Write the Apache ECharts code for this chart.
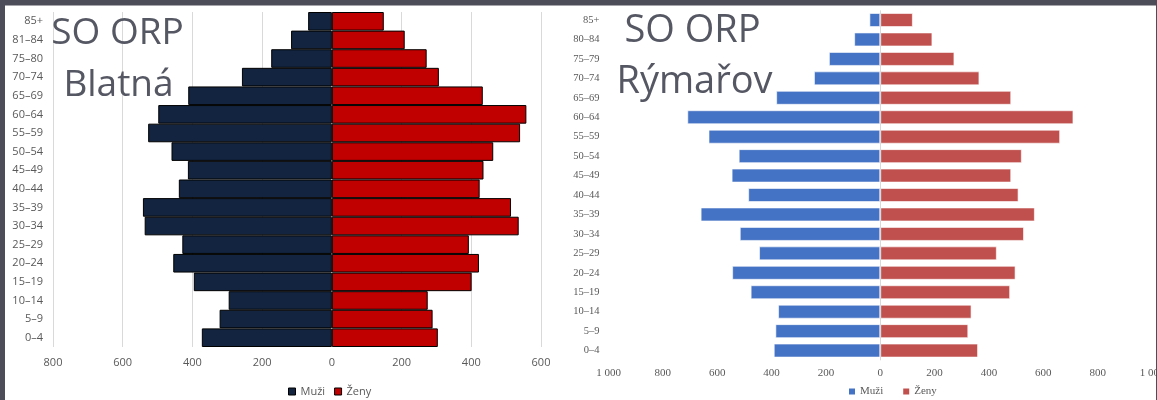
<!DOCTYPE html>
<html>
<head>
<meta charset="utf-8">
<script src="https://cdn.jsdelivr.net/npm/echarts@6/dist/echarts.min.js"></script>
<style>
html,body{margin:0;padding:0;background:#fff;}
#chart{width:1157px;height:400px;}
</style>
</head>
<body>
<div id="chart"></div>
<script>
// ---- data ----
const categoriesBlatna = ['85+','81–84','75–80','70–74','65–69','60–64','55–59','50–54','45–49','40–44','35–39','30–34','25–29','20–24','15–19','10–14','5–9','0–4'];
const muziBlatna = [68,117,174,258,412,498,527,460,413,439,542,537,429,455,396,296,322,373];
const zenyBlatna = [149,209,272,307,433,558,540,463,435,424,514,536,393,422,401,275,289,304];

const categoriesRymarov = ['85+','80–84','75–79','70–74','65–69','60–64','55–59','50–54','45–49','40–44','35–39','30–34','25–29','20–24','15–19','10–14','5–9','0–4'];
const muziRymarov = [40,96,189,244,383,710,632,521,547,486,661,517,446,545,477,376,386,392];
const zenyRymarov = [120,192,273,365,482,711,662,521,482,509,569,529,429,498,478,336,324,360];

const legendNames = ['Muži','Ženy'];
const titleBlatna = ['SO ORP','Blatná'];
const titleRymarov = ['SO ORP','Rýmařov'];

// ---- chart ----
const sans = 'Open Sans';
const serif = 'Liberation Serif';
const grey = '#595959';
const frame = '#4c4d59';
const titleColor = '#555763';

function fmtSpace(v){
  return String(Math.abs(v)).replace(/\B(?=(\d{3})+(?!\d))/g, ' ');
}

const chart = echarts.init(document.getElementById('chart'), null, {renderer:'canvas'});

const option = {
  backgroundColor: '#ffffff',
  animation: false,
  grid: [
    {left: 53, top: 12, width: 488, height: 335, containLabel: false, outerBoundsMode: 'none'},
    {left: 608.5, top: 10.3, width: 543.5, height: 350, containLabel: false, outerBoundsMode: 'none'}
  ],
  xAxis: [
    {
      type: 'value', gridIndex: 0, min: -800, max: 600, interval: 200,
      axisLine: {show: false}, axisTick: {show: false},
      splitLine: {show: true, lineStyle: {color: '#d9d9d9', width: 1}},
      axisLabel: {formatter: v => String(Math.abs(v)), color: grey, fontFamily: sans, fontSize: 11, margin: 10}
    },
    {
      type: 'value', gridIndex: 1, min: -1000, max: 1000, interval: 200,
      axisLine: {show: false}, axisTick: {show: false},
      splitLine: {show: false},
      axisLabel: {formatter: fmtSpace, color: grey, fontFamily: serif, fontSize: 11, margin: 7}
    }
  ],
  yAxis: [
    {
      type: 'category', gridIndex: 0, data: categoriesBlatna, inverse: true,
      axisLine: {show: false}, axisTick: {show: false},
      axisLabel: {color: grey, fontFamily: sans, fontSize: 11, margin: 10}
    },
    {
      type: 'category', gridIndex: 1, data: categoriesRymarov, inverse: true,
      axisLine: {show: false}, axisTick: {show: false},
      axisLabel: {color: grey, fontFamily: serif, fontSize: 10.5, margin: 9}
    }
  ],
  legend: [
    {
      selectedMode: false, left: 283, top: 381, icon: 'rect', itemWidth: 7, itemHeight: 7, itemGap: 9,
      textStyle: {color: grey, fontFamily: sans, fontSize: 11},
      data: [
        {name: legendNames[0], itemStyle: {color: '#12243f', borderColor: '#000', borderWidth: 1}},
        {name: legendNames[1], itemStyle: {color: '#c00000', borderColor: '#000', borderWidth: 1}}
      ]
    },
    {
      selectedMode: false, left: 844, top: 381, icon: 'rect', itemWidth: 6, itemHeight: 6, itemGap: 20,
      textStyle: {color: grey, fontFamily: serif, fontSize: 11},
      data: [
        {name: legendNames[0], itemStyle: {color: '#4472c4', borderWidth: 0}},
        {name: legendNames[1], itemStyle: {color: '#c0504d', borderWidth: 0}}
      ]
    }
  ],
  series: [
    {
      name: legendNames[0], type: 'bar', xAxisIndex: 0, yAxisIndex: 0,
      data: muziBlatna.map(v => -v), barCategoryGap: '0%', barGap: '-100%',
      itemStyle: {color: '#12243f', borderColor: '#000', borderWidth: 1}
    },
    {
      name: legendNames[1], type: 'bar', xAxisIndex: 0, yAxisIndex: 0,
      data: zenyBlatna, barCategoryGap: '0%', barGap: '-100%',
      itemStyle: {color: '#c00000', borderColor: '#000', borderWidth: 1}
    },
    {
      name: legendNames[0], type: 'bar', xAxisIndex: 1, yAxisIndex: 1,
      data: muziRymarov.map(v => -v), barCategoryGap: '28%', barGap: '-100%',
      itemStyle: {color: '#4472c4', borderColor: 'rgba(255,255,255,0.6)', borderWidth: 1},
      markLine: {
        silent: true, symbol: 'none', label: {show: false},
        lineStyle: {color: '#d9d9d9', width: 1, type: 'solid'},
        data: [{xAxis: 0}]
      }
    },
    {
      name: legendNames[1], type: 'bar', xAxisIndex: 1, yAxisIndex: 1,
      data: zenyRymarov, barCategoryGap: '28%', barGap: '-100%',
      itemStyle: {color: '#c0504d', borderColor: 'rgba(255,255,255,0.6)', borderWidth: 1}
    }
  ],
  graphic: [
    {type: 'rect', shape: {x: 0, y: 0, width: 1157, height: 5.5}, style: {fill: frame}, z: 100},
    {type: 'rect', shape: {x: 0, y: 0, width: 5, height: 400}, style: {fill: frame}, z: 100},
    {type: 'rect', shape: {x: 1156, y: 0, width: 1, height: 400}, style: {fill: frame}, z: 100},
    {type: 'text', x: 117.5, y: 33.5, z: 50, style: {text: titleBlatna[0], fontFamily: sans, fontSize: 37, fill: titleColor, textAlign: 'center', textVerticalAlign: 'middle'}},
    {type: 'text', x: 118.5, y: 85.5, z: 50, style: {text: titleBlatna[1], fontFamily: sans, fontSize: 37, fill: titleColor, textAlign: 'center', textVerticalAlign: 'middle'}},
    {type: 'text', x: 692.5, y: 31.5, z: 50, style: {text: titleRymarov[0], fontFamily: sans, fontSize: 38, fill: titleColor, textAlign: 'center', textVerticalAlign: 'middle'}},
    {type: 'text', x: 694.5, y: 82, z: 50, style: {text: titleRymarov[1], fontFamily: sans, fontSize: 38, fill: titleColor, textAlign: 'center', textVerticalAlign: 'middle'}}
  ]
};
chart.setOption(option);
</script>
</body>
</html>
